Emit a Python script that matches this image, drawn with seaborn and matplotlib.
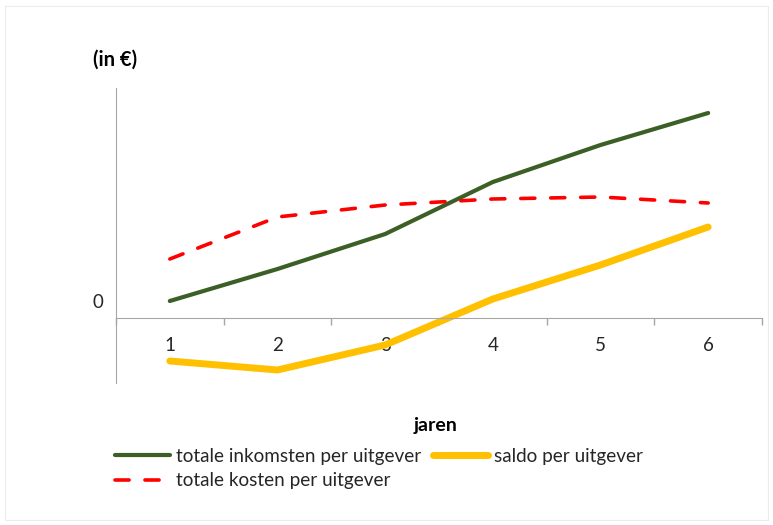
import matplotlib.pyplot as plt
import matplotlib.transforms as mtransforms
import seaborn as sns
import pandas as pd

jaren = [1, 2, 3, 4, 5, 6]
inkomsten = [17, 49, 84, 136, 173, 205]
kosten = [59, 101, 113, 119, 121, 115]
saldo = [-43, -52, -27, 19, 53, 91]

sns.set_style("white")
plt.rcParams['font.family'] = ['Lato', 'DejaVu Sans']

df = pd.DataFrame({'pos': range(len(jaren)), 'inkomsten': inkomsten,
                   'kosten': kosten, 'saldo': saldo})

fig = plt.figure(figsize=(7.73, 5.25), dpi=100)
ax = fig.add_axes([116 / 773, 1 - 383 / 525, 646 / 773, 295 / 525])

sns.lineplot(data=df, x='pos', y='inkomsten', ax=ax, color='#3c5f25', lw=3,
             label='totale inkomsten per uitgever', solid_capstyle='round')
sns.lineplot(data=df, x='pos', y='kosten', ax=ax, color='#ff0000', lw=2.6,
             label='totale kosten per uitgever', dashes=False)
ax.lines[-1].set_dashes([3.9, 4.4])
ax.lines[-1].set_dash_capstyle('round')
sns.lineplot(data=df, x='pos', y='saldo', ax=ax, color='#ffc000', lw=5,
             label='saldo per uitgever', solid_capstyle='round')

ax.set_xlim(-0.5, len(jaren) - 0.5)
ax.set_ylim(-65, 230)

for s in ['top', 'right']:
    ax.spines[s].set_visible(False)
ax.spines['bottom'].set_position(('data', 0))
ax.spines['bottom'].set_color('#a6a6a6')
ax.spines['left'].set_color('#a6a6a6')

ax.set_xticks(range(len(jaren)))
ax.set_xticklabels([str(j) for j in jaren], fontsize=13.5, color='#262626')
ax.tick_params(axis='x', which='major', bottom=True, length=0, pad=14)
ax.set_xticks([i - 0.5 for i in range(len(jaren) + 1)], minor=True)
ax.tick_params(axis='x', which='minor', bottom=True, length=5, width=1,
               color='#a6a6a6', direction='out')
ax.set_yticks([])
ax.set_xlabel('')
ax.set_ylabel('')

trans = mtransforms.blended_transform_factory(ax.transAxes, ax.transData)
ax.annotate('0', xy=(0, 0), xycoords=trans, xytext=(-9, 11), textcoords='offset points',
            ha='right', va='center', fontsize=13.5, color='#262626')

fig.text(115 / 773, 1 - 60 / 525, '(in €)', ha='center', va='center',
         fontsize=14.5, fontweight='bold', color='#000000')
fig.text(436 / 773, 1 - 425 / 525, 'jaren', ha='center', va='center',
         fontsize=14, fontweight='bold', color='#000000')

ax.legend(loc='upper left', bbox_to_anchor=(107 / 773, 1 - 440 / 525),
          bbox_transform=fig.transFigure, ncol=2, frameon=False, fontsize=13.6,
          handlelength=2.95, handletextpad=0.3, columnspacing=0.6,
          labelspacing=0.42, borderaxespad=0, labelcolor='#262626')

fig.patches.append(plt.Rectangle((5 / 773, 5 / 525), 763 / 773, 514 / 525,
                                 transform=fig.transFigure, fill=False,
                                 edgecolor='#ececec', lw=0.8))

plt.savefig('out.png', dpi=100)
